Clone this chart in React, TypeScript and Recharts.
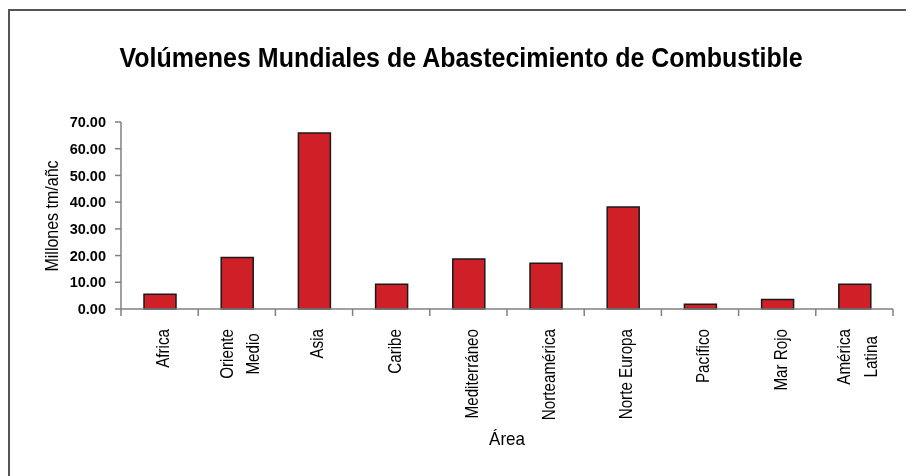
import React from "react";
import { BarChart, Bar, XAxis, YAxis } from "recharts";

const categories = [
  "Africa",
  "Oriente Medio",
  "Asia",
  "Caribe",
  "Mediterráneo",
  "Norteamérica",
  "Norte Europa",
  "Pacífico",
  "Mar Rojo",
  "América Latina",
];
const labelLines: string[][] = [
  ["Africa"],
  ["Oriente", "Medio"],
  ["Asia"],
  ["Caribe"],
  ["Mediterráneo"],
  ["Norteamérica"],
  ["Norte Europa"],
  ["Pacífico"],
  ["Mar Rojo"],
  ["América", "Latina"],
];
const volumes = [5.5, 19.3, 65.9, 9.3, 18.7, 17.1, 38.2, 1.8, 3.6, 9.3];
const yTicks = [0, 10, 20, 30, 40, 50, 60, 70];

const title = "Volúmenes Mundiales de Abastecimiento de Combustible";
const yTitle = "Millones tm/añc";
const xTitle = "Área";

const data = categories.map((c, i) => ({ area: c, value: volumes[i] }));

const FONT = "'Liberation Sans', Arial, sans-serif";
const LABEL_SIZE = 15.2;
const LABEL_STRETCH = 1.15;
const AXIS_GRAY = "#808080";

let ctx: CanvasRenderingContext2D | null = null;
function measure(t: string): number {
  if (!ctx) {
    const c = document.createElement("canvas");
    ctx = c.getContext("2d");
  }
  if (!ctx) return t.length * 7.5;
  ctx.font = `${LABEL_SIZE}px ${FONT}`;
  return ctx.measureText(t).width;
}

const CategoryTick = (props: any) => {
  const { x, y, payload, index } = props;
  const off = payload && typeof payload.offset === "number" ? payload.offset : 0;
  const idx = categories.indexOf(payload.value);
  const lines = idx >= 0 ? labelLines[idx] : [String(payload.value)];
  const top = 20;
  const n = lines.length;
  const spacing = 26.6;
  const block = Math.max(...lines.map(measure));
  const mid = top + block / 2;
  const isLast = index === categories.length - 1;
  const tf = `rotate(-90) scale(1, ${LABEL_STRETCH})`;
  return (
    <g>
      <line x1={x - off} x2={x - off} y1={y} y2={y + 7} stroke={AXIS_GRAY} strokeWidth={1.5} />
      {isLast && (
        <line x1={x + off} x2={x + off} y1={y} y2={y + 7} stroke={AXIS_GRAY} strokeWidth={1.5} />
      )}
      <g transform={`translate(${x},${y})`}>
        {n === 1 ? (
          <text
            transform={tf}
            x={-top}
            y={9.4 / LABEL_STRETCH}
            textAnchor="end"
            fontFamily={FONT}
            fontSize={LABEL_SIZE}
            fill="#000"
          >
            {lines[0]}
          </text>
        ) : (
          lines.map((l, i) => (
            <text
              key={i}
              transform={tf}
              x={-mid}
              y={(9.2 + (i - (n - 1) / 2) * spacing) / LABEL_STRETCH}
              textAnchor="middle"
              fontFamily={FONT}
              fontSize={LABEL_SIZE}
              fill="#000"
            >
              {l}
            </text>
          ))
        )}
      </g>
    </g>
  );
};

export default function App() {
  return (
    <div style={{ position: "relative", width: 890, height: 460 }}>
      <div
        style={{
          position: "fixed",
          left: 8,
          top: 9,
          width: 898,
          height: 467,
          borderLeft: "2px solid #555",
          borderTop: "2px solid #555",
          boxSizing: "border-box",
        }}
      />
      <div style={{ position: "absolute", left: 0, top: 0 }}>
        <BarChart
          width={890}
          height={460}
          data={data}
          margin={{ top: 114, right: 5, left: 0, bottom: 0 }}
          barSize={32}
        >
          <XAxis
            dataKey="area"
            type="category"
            height={159}
            axisLine={{ stroke: AXIS_GRAY, strokeWidth: 1.5 }}
            tickLine={false}
            tickSize={0}
            tickMargin={0}
            interval={0}
            tick={<CategoryTick />}
          />
          <YAxis
            width={113}
            domain={[0, 70]}
            ticks={yTicks}
            interval={0}
            tickFormatter={(v: number) => v.toFixed(2)}
            tickSize={6}
            tickMargin={9}
            axisLine={{ stroke: AXIS_GRAY, strokeWidth: 1.5 }}
            tickLine={{ stroke: AXIS_GRAY, strokeWidth: 1.5 }}
            tick={{ fill: "#000", fontSize: 14.5, fontWeight: "bold", fontFamily: FONT }}
          />
          <Bar
            dataKey="value"
            fill="#CF2027"
            stroke="#1a1a1a"
            strokeWidth={1.5}
            isAnimationActive={false}
          />
        </BarChart>
      </div>
      <svg
        width={890}
        height={460}
        style={{ position: "absolute", left: 0, top: 0, pointerEvents: "none" }}
      >
        <text
          transform="translate(453,59) scale(1,1.12)"
          textAnchor="middle"
          fontFamily={FONT}
          fontWeight="bold"
          fontSize={25}
          fill="#000"
        >
          {title}
        </text>
        <text
          transform="translate(50,208) rotate(-90) scale(1,1.12)"
          textAnchor="middle"
          fontFamily={FONT}
          fontSize={16}
          fill="#000"
        >
          {yTitle}
        </text>
        <text
          transform="translate(499,437) scale(1,1.08)"
          textAnchor="middle"
          fontFamily={FONT}
          fontSize={17}
          fill="#000"
        >
          {xTitle}
        </text>
      </svg>
    </div>
  );
}
